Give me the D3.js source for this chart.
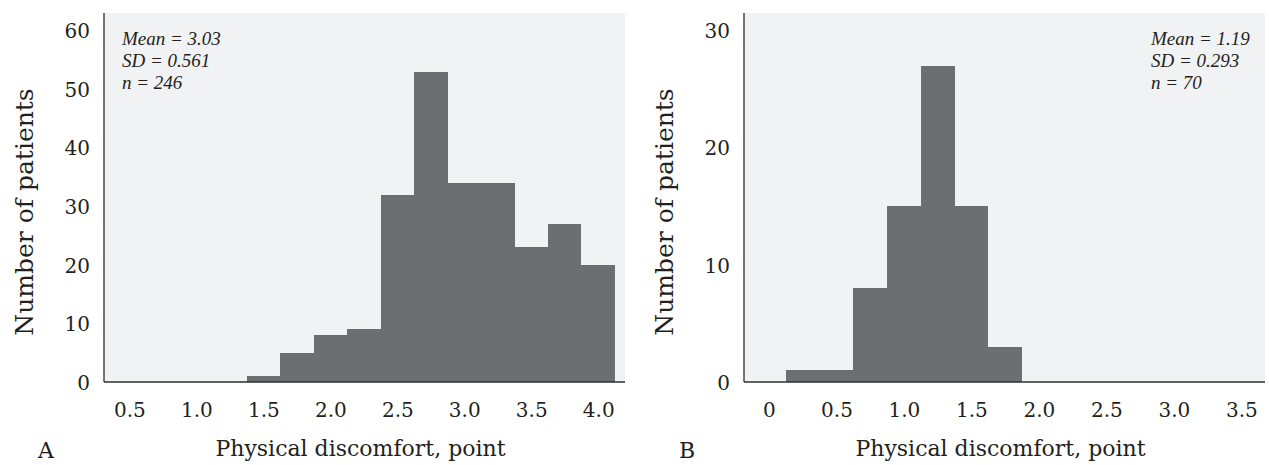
<!DOCTYPE html>
<html>
<head>
<meta charset="utf-8">
<script src="https://cdn.jsdelivr.net/npm/d3@7"></script>
<style>
  html, body { margin: 0; padding: 0; background: #ffffff; }
  svg { display: block; }
</style>
</head>
<body>
<svg id="chart" width="1269" height="465"></svg>
<script>
// ---- Data ----
const binWidth = 0.25;
const binsA = [1.5, 1.75, 2.0, 2.25, 2.5, 2.75, 3.0, 3.25, 3.5, 3.75, 4.0];
const countsA = [1, 5, 8, 9, 32, 53, 34, 34, 23, 27, 20];
const binsB = [0.25, 0.5, 0.75, 1.0, 1.25, 1.5, 1.75];
const countsB = [1, 1, 8, 15, 27, 15, 3];
const xTicksA = [0.5, 1.0, 1.5, 2.0, 2.5, 3.0, 3.5, 4.0];
const yTicksA = [0, 10, 20, 30, 40, 50, 60];
const xTicksB = [0, 0.5, 1.0, 1.5, 2.0, 2.5, 3.0, 3.5];
const yTicksB = [0, 10, 20, 30];
const statsA = ["Mean = 3.03", "SD = 0.561", "n = 246"];
const statsB = ["Mean = 1.19", "SD = 0.293", "n = 70"];
const panelLabels = ["A", "B"];
const xTitle = "Physical discomfort, point";
const yTitle = "Number of patients";

// ---- Layout ----
const svg = d3.select("#chart");
const serif = "'DejaVu Serif', serif";
const panels = [
  { bins: binsA, counts: countsA, xTicks: xTicksA, yTicks: yTicksA, stats: statsA, label: panelLabels[0],
    left: 104, right: 625, xDomain: [0.31, 4.2], yDomain: [0, 63], statsX: 122, labelX: 38, yTitleX: 33 },
  { bins: binsB, counts: countsB, xTicks: xTicksB, yTicks: yTicksB, stats: statsB, label: panelLabels[1],
    left: 744, right: 1265, xDomain: [-0.185, 3.675], yDomain: [0, 31.5], statsX: 1151, labelX: 679, yTitleX: 673 }
];
const plotTop = 13, plotBottom = 382;

panels.forEach(p => {
  const x = d3.scaleLinear().domain(p.xDomain).range([p.left, p.right]);
  const y = d3.scaleLinear().domain(p.yDomain).range([plotBottom, plotTop]);
  const g = svg.append("g");

  // background
  g.append("rect")
    .attr("x", p.left).attr("y", plotTop)
    .attr("width", p.right - p.left).attr("height", plotBottom - plotTop)
    .attr("fill", "#f1f2f4");

  // bars
  g.selectAll("rect.bar").data(p.bins.map((b, i) => ({ b, c: p.counts[i] })))
    .join("rect").attr("class", "bar")
    .attr("x", d => x(d.b - binWidth / 2))
    .attr("width", d => x(d.b + binWidth / 2) - x(d.b - binWidth / 2))
    .attr("y", d => y(d.c))
    .attr("height", d => y(0) - y(d.c))
    .attr("fill", "#6d6e71")
    .attr("shape-rendering", "crispEdges");

  // axis lines
  g.append("line").attr("x1", p.left).attr("x2", p.left).attr("y1", plotTop).attr("y2", y(0))
    .attr("stroke", "#4a4a4a").attr("stroke-width", 1.5);
  g.append("line").attr("x1", p.left).attr("x2", p.right).attr("y1", y(0)).attr("y2", y(0))
    .attr("stroke", "#2e2e2e").attr("stroke-width", 1.6);

  // x axis labels
  const fmt = d => d === 0 ? "0" : d.toFixed(1);
  const xa = g.append("g").attr("transform", `translate(0,${y(0)})`)
    .call(d3.axisBottom(x).tickValues(p.xTicks).tickFormat(fmt).tickSize(0));
  xa.select(".domain").remove();
  xa.selectAll("text").attr("y", 35).attr("dy", null)
    .attr("font-family", serif).attr("font-size", 20).attr("fill", "#231f20");

  // y axis labels
  const ya = g.append("g").attr("transform", `translate(${p.left},0)`)
    .call(d3.axisLeft(y).tickValues(p.yTicks).tickFormat(d3.format("d")).tickSize(0));
  ya.select(".domain").remove();
  ya.selectAll("text").attr("x", -14).attr("dy", "0.36em")
    .attr("font-family", serif).attr("font-size", 20).attr("fill", "#231f20");

  // stats
  p.stats.forEach((s, i) => {
    g.append("text").attr("x", p.statsX).attr("y", 45 + i * 22)
      .attr("font-family", "'Liberation Serif', serif").attr("font-style", "italic")
      .attr("font-size", 19).attr("fill", "#231f20").text(s);
  });

  // x title
  g.append("text").attr("x", (p.left + p.right) / 2 - 4).attr("y", 456)
    .attr("text-anchor", "middle").attr("font-family", serif).attr("font-size", 22)
    .attr("fill", "#231f20").text(xTitle);

  // y title
  g.append("text").attr("transform", `translate(${p.yTitleX},212) rotate(-90)`)
    .attr("text-anchor", "middle").attr("font-family", serif).attr("font-size", 25)
    .attr("fill", "#231f20").text(yTitle);

  // panel label
  g.append("text").attr("x", p.labelX).attr("y", 458)
    .attr("font-family", serif).attr("font-size", 22)
    .attr("fill", "#231f20").text(p.label);
});
</script>
</body>
</html>
